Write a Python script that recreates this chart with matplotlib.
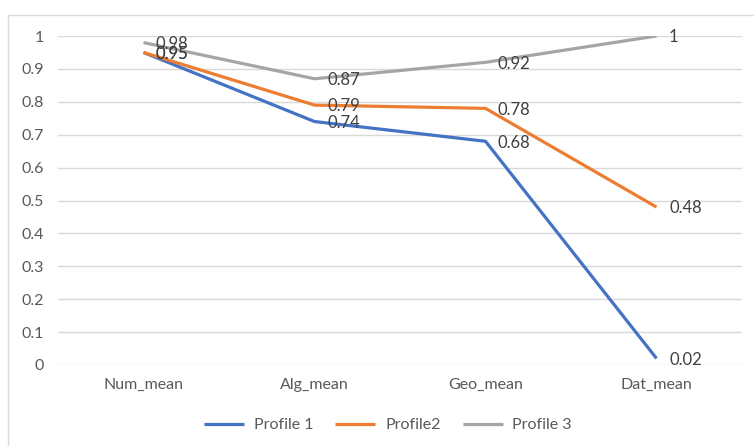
import matplotlib.pyplot as plt
from matplotlib.lines import Line2D

categories = ["Num_mean", "Alg_mean", "Geo_mean", "Dat_mean"]
profile_1 = [0.95, 0.74, 0.68, 0.02]
profile_2 = [0.95, 0.79, 0.78, 0.48]
profile_3 = [0.98, 0.87, 0.92, 1.0]
series_names = ["Profile 1", "Profile2", "Profile 3"]
colors = ["#4472C4", "#ED7D31", "#A5A5A5"]
y_ticks = [0, 0.1, 0.2, 0.3, 0.4, 0.5, 0.6, 0.7, 0.8, 0.9, 1]

plt.rcParams["font.family"] = ["Lato", "DejaVu Sans"]

W, H = 754, 446
fig = plt.figure(figsize=(W / 100, H / 100), dpi=100)
ax = fig.add_axes([58 / W, 81 / H, (742 - 58) / W, (365 - 36) / H])

x = list(range(len(categories)))
for vals, name, col in zip([profile_1, profile_2, profile_3], series_names, colors):
    ax.plot(x, vals, color=col, lw=2.3, label=name, solid_capstyle="butt")

# data labels to the right of each point
for vals in [profile_1, profile_2, profile_3]:
    for xi, v in zip(x, vals):
        ax.annotate(f"{v:g}", (xi, v), xytext=(9, -1), textcoords="offset points",
                    ha="left", va="center", fontsize=12, color="#404040")

ax.set_xlim(-0.5, len(categories) - 0.5)
ax.set_ylim(0, 1)
ax.set_yticks(y_ticks)
ax.set_yticklabels([f"{t:g}" for t in y_ticks])
ax.set_xticks(x)
ax.set_xticklabels(categories)
ax.tick_params(axis="both", length=0, labelsize=11.5, colors="#595959")
ax.tick_params(axis="y", pad=10)
ax.tick_params(axis="x", pad=9)
ax.grid(axis="y", color="#D9D9D9", lw=1)
ax.set_axisbelow(True)
for s in ax.spines.values():
    s.set_visible(False)

ax.legend(loc="center", bbox_to_anchor=(388 / W, (H - 425) / H), bbox_transform=fig.transFigure,
          ncol=3, frameon=False, fontsize=11.5, labelcolor="#595959",
          handlelength=2.5, columnspacing=1.4, handletextpad=0.6)

# chart frame edges
fig.add_artist(Line2D([8 / W, 8 / W], [0, 1 - 15 / H], transform=fig.transFigure, color="#D9D9D9", lw=1))
fig.add_artist(Line2D([8 / W, 1], [1 - 15 / H, 1 - 15 / H], transform=fig.transFigure, color="#D9D9D9", lw=1))

fig.savefig("out.png", dpi=100, facecolor="white")
